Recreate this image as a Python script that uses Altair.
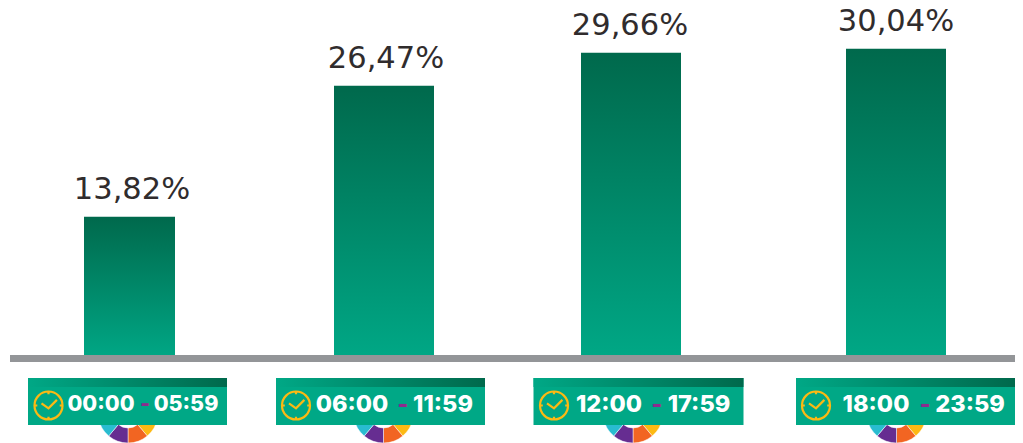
import math
import altair as alt
import pandas as pd

# ---- values
start_labels = ["00:00", "06:00", "12:00", "18:00"]
end_labels = ["05:59", "11:59", "17:59", "23:59"]
hour_start = [0.0, 6.0, 12.0, 18.0]
hour_end = [5.98, 11.98, 17.98, 23.98]
shares = [13.82, 26.47, 29.66, 30.04]
share_labels = ["13,82%", "26,47%", "29,66%", "30,04%"]
wheel_colors = ["#fdb913", "#f26522", "#662d91", "#29bcd0"]
wheel_from = [100, 140, 180, 220]
wheel_to = [140, 180, 220, 260]

# ---- layout (scale ranges, in plot pixels)
X0 = 8
bar_edges = [84, 175, 334, 434, 581, 681, 846, 946]
plate_edges = [28, 227, 276, 485, 533.5, 743.5, 796, 1015]
value_cx = [132, 386, 630, 896]
wheel_cx = [128, 383.5, 633, 896.5]
clock_cx = [48.5, 296, 554, 816]
start_cx = [101, 352, 609, 876]
dash_cx = [145, 402.7, 656.7, 925]
end_cx = [186, 443, 699, 970]
plate_font_sizes = [21.5, 23.5, 23.5, 23.5]

TEAL = "#00a886"
DARK = "#00694c"
GREY = "#939598"
GOLD = "#fdb913"
PURPLE = "#8e2b8e"


def px(values):
    return [v - X0 for v in values]


mid = [(a + b) / 2 for a, b in zip(hour_start, hour_end)]
stops = [v for pair in zip(hour_start, hour_end) for v in pair]

df = pd.DataFrame({
    "hour_start": hour_start, "hour_end": hour_end, "mid": mid,
    "share": shares, "share_label": share_labels,
    "start_label": start_labels, "end_label": end_labels, "dash": ["-"] * 4,
})
wheel_df = pd.DataFrame([
    {"mid": m, "a": a, "b": b, "c": c}
    for m in mid for a, b, c in zip(wheel_from, wheel_to, wheel_colors)
])


def edge_x(field, edges):
    return alt.X(field, type="quantitative", axis=None,
                 scale=alt.Scale(domain=stops, range=px(edges), zero=False, nice=False))


def mid_x(centres):
    return alt.X("mid:Q", axis=None, stack=None,
                 scale=alt.Scale(domain=mid, range=px(centres), zero=False, nice=False))


y_scale = alt.Scale(domain=[-8.01, 33.98], range=[435, 0], zero=False, nice=False)
y_val = alt.Y("share:Q", axis=None, scale=y_scale)

base = alt.Chart(df)

bars = base.mark_bar(
    color=alt.Gradient(gradient="linear", x1=0, x2=0, y1=0, y2=1,
                       stops=[alt.GradientStop(color=DARK, offset=0),
                              alt.GradientStop(color=TEAL, offset=1)])
).encode(
    x=edge_x("hour_start", bar_edges), x2="hour_end:Q",
    y=y_val, y2=alt.datum(0),
)

value_text = base.mark_text(
    font="DejaVu Sans", fontSize=30.5, color="#302c2d", dy=-18,
    align="center", baseline="alphabetic",
).encode(x=mid_x(value_cx), y=y_val, text="share_label:N")

baseline = base.mark_rule(color=GREY, strokeWidth=7).transform_filter("datum.mid < 3").encode(
    x=alt.value(2), x2=alt.value(1007), y=alt.value(350.5))

wheels = alt.Chart(wheel_df).mark_arc(radius=30, radius2=15, stroke="white", strokeWidth=0.5).encode(
    x=mid_x(wheel_cx), y=alt.value(405),
    theta=alt.Theta("a:Q", stack=None,
                    scale=alt.Scale(domain=[0, 360], range=[0, 2 * math.pi])),
    theta2="b:Q",
    color=alt.Color("c:N", scale=None),
)

plates = base.mark_rect(color=TEAL).encode(
    x=edge_x("hour_start", plate_edges), x2="hour_end:Q",
    y=alt.value(370), y2=alt.value(417))

headers = base.mark_rect(
    color=alt.Gradient(gradient="linear", x1=0, x2=1, y1=0, y2=0,
                       stops=[alt.GradientStop(color=TEAL, offset=0),
                              alt.GradientStop(color=DARK, offset=1)])
).encode(
    x=edge_x("hour_start", plate_edges), x2="hour_end:Q",
    y=alt.value(370), y2=alt.value(379))

CLOCK = ("M-1,0A1,1,0,1,1,1,0A1,1,0,1,1,-1,0Z"
         "M0,-1L0,-0.8M0,1L0,0.8M-1,0L-0.8,0M1,0L0.8,0"
         "M-0.5,-0.15L0,0.2L0.6,-0.4")
clocks = base.mark_point(shape=CLOCK, size=784, stroke=GOLD, strokeWidth=2.2, filled=False,
                         opacity=1).encode(
    x=mid_x(clock_cx), y=alt.value(397.5))


def plate_text(field, centres, color):
    return base.mark_text(
        font="Inter", fontWeight=800, color=color,
        align="center", baseline="middle",
    ).encode(
        x=mid_x(centres), y=alt.value(397), text=f"{field}:N",
        size=alt.Size("mid:Q", legend=None,
                      scale=alt.Scale(domain=mid, range=plate_font_sizes, zero=False, nice=False)),
    )


chart = alt.layer(
    bars, value_text, baseline, wheels, plates, headers, clocks,
    plate_text("start_label", start_cx, "white"),
    plate_text("dash", dash_cx, PURPLE),
    plate_text("end_label", end_cx, "white"),
).resolve_scale(x="independent").properties(
    width=1007, height=435, padding=0, background="white",
    autosize=alt.AutoSizeParams(type="none"),
).configure_view(stroke=None)

chart.save("out.html", embed_options={"renderer": "svg", "actions": False})
